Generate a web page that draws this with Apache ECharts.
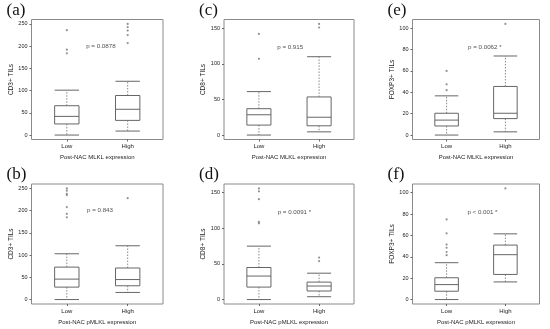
<!DOCTYPE html>
<html><head><meta charset="utf-8">
<script src="https://cdn.jsdelivr.net/npm/echarts@6/dist/echarts.min.js"></script>
<style>html,body{margin:0;padding:0;background:#fff}#c{width:550px;height:329px}</style>
</head><body><div id="c"></div>
<script>
// ---- data ----
const categories = ['Low', 'High'];
// box stats: [whiskerLow, Q1, median, Q3, whiskerHigh]
const statsA = [[0, 25, 42, 66, 101], [9, 33, 58, 89, 121]];
const outliersA = [[184, 192, 236], [207, 225, 235, 243, 250]];
const statsB = [[0, 28, 46, 73, 103], [16, 31, 45, 71, 121]];
const outliersB = [[185, 193, 208, 235, 238, 245, 250], [228]];
const statsC = [[0, 14, 28.5, 37, 61], [4.5, 13, 25, 53.5, 110]];
const outliersC = [[107, 142], [151, 156]];
const statsD = [[0, 17.5, 33, 45, 75], [4, 12, 19, 24.5, 37]];
const outliersD = [[107, 109, 141, 152, 156], [54, 59]];
const statsE = [[0, 8.5, 14, 20.4, 36.7], [3, 15.4, 20.4, 45.5, 74]];
const outliersE = [[42, 47.5, 60], [104]];
const statsF = [[0, 7.8, 14, 20.4, 34.5], [16.5, 23.5, 42, 51, 61.5]];
const outliersF = [[41.5, 44.5, 48.5, 51.5, 62, 75], [104]];
const pLabels = ['p = 0.0878', 'p = 0.843', 'p = 0.915', 'p = 0.0091 *', 'p = 0.0062 *', 'p < 0.001 *'];
const pLabelPos = [[1.56, 200], [1.545, 200], [1.52, 123], [1.59, 123], [1.65, 82], [1.61, 82]];
const panelTags = ['(a)', '(b)', '(c)', '(d)', '(e)', '(f)'];
const yTitles = ['CD3+ TILs', 'CD3+ TILs', 'CD8+ TILs', 'CD8+ TILs', 'FOXP3+ TILs', 'FOXP3+ TILs'];
const xTitles = ['Post-NAC MLKL expression', 'Post-NAC pMLKL expression', 'Post-NAC MLKL expression', 'Post-NAC pMLKL expression', 'Post-NAC MLKL expression', 'Post-NAC pMLKL expression'];
const yTicksCD3 = [0, 50, 100, 150, 200, 250];
const yTicksCD8 = [0, 50, 100, 150];
const yTicksFOXP3 = [0, 20, 40, 60, 80, 100];

// ---- layout ----
const cols = [{ left: 31.5, width: 131.5 }, { left: 224, width: 130 }, { left: 412.5, width: 127 }];
const rows = [{ top: 19.5, height: 120 }, { top: 184, height: 120 }];
const allStats = [statsA, statsB, statsC, statsD, statsE, statsF];
const allOut = [outliersA, outliersB, outliersC, outliersD, outliersE, outliersF];
const yTickSets = [yTicksCD3, yTicksCD3, yTicksCD8, yTicksCD8, yTicksFOXP3, yTicksFOXP3];
const yLimits = [[-10, 260], [-10, 260], [-6.24, 162.24], [-6.24, 162.24], [-4.16, 108.16], [-4.16, 108.16]];

const FONT = "'Liberation Sans', Arial, sans-serif";
const LINE = '#666';
const grids = [], xAxes = [], yAxes = [], series = [], graphics = [];

for (let i = 0; i < 6; i++) {
  const col = cols[Math.floor(i / 2)], row = rows[i % 2];
  grids.push({ left: col.left, top: row.top, width: col.width, height: row.height, show: true, borderColor: '#8a8a8a', borderWidth: 1, backgroundColor: 'transparent' });
  xAxes.push({
    gridIndex: i, type: 'value', min: 0.42, max: 2.58, position: 'bottom',
    name: xTitles[i], nameLocation: 'middle', nameGap: 15,
    nameTextStyle: { fontFamily: FONT, fontSize: 6, color: '#222' },
    axisLine: { show: false, onZero: false }, splitLine: { show: false },
    axisTick: { show: true, length: 2, customValues: [1, 2], lineStyle: { color: LINE } },
    axisLabel: { customValues: [1, 2], formatter: v => categories[Math.round(v) - 1], fontFamily: FONT, fontSize: 6, color: '#222', margin: 4 }
  });
  yAxes.push({
    gridIndex: i, type: 'value', min: yLimits[i][0], max: yLimits[i][1], position: 'left',
    name: yTitles[i], nameLocation: 'middle', nameGap: 14, nameRotate: 90,
    nameTextStyle: { fontFamily: FONT, fontSize: 6.5, color: '#222' },
    axisLine: { show: false, onZero: false }, splitLine: { show: false },
    axisTick: { show: true, length: 2, customValues: yTickSets[i], lineStyle: { color: LINE } },
    axisLabel: { customValues: yTickSets[i], fontFamily: FONT, fontSize: 5.5, color: '#222', margin: 4 }
  });
  series.push({
    type: 'custom', xAxisIndex: i, yAxisIndex: i, silent: true,
    data: allStats[i].map((s, k) => [k + 1].concat(s)),
    renderItem: function (params, api) {
      const x = api.value(0);
      const p = [1, 2, 3, 4, 5].map(d => api.coord([x, api.value(d)]));
      const hw = api.size([0.2, 0])[0];
      const cx = p[0][0];
      const solid = { stroke: LINE, lineWidth: 1, fill: null };
      const dashed = { stroke: '#888', lineWidth: 1, lineDash: [1.5, 1.5], fill: null };
      return {
        type: 'group', children: [
          { type: 'line', shape: { x1: cx, y1: p[3][1], x2: cx, y2: p[4][1] }, style: dashed },
          { type: 'line', shape: { x1: cx, y1: p[1][1], x2: cx, y2: p[0][1] }, style: dashed },
          { type: 'line', shape: { x1: cx - hw, y1: p[4][1], x2: cx + hw, y2: p[4][1] }, style: solid },
          { type: 'line', shape: { x1: cx - hw, y1: p[0][1], x2: cx + hw, y2: p[0][1] }, style: solid },
          { type: 'rect', shape: { x: cx - hw, y: p[3][1], width: 2 * hw, height: p[1][1] - p[3][1] }, style: { stroke: LINE, lineWidth: 1, fill: '#fff' } },
          { type: 'line', shape: { x1: cx - hw, y1: p[2][1], x2: cx + hw, y2: p[2][1] }, style: solid }
        ]
      };
    }
  });
  const pts = [];
  allOut[i].forEach((arr, k) => arr.forEach(v => pts.push([k + 1, v])));
  series.push({ type: 'scatter', xAxisIndex: i, yAxisIndex: i, silent: true, symbol: 'circle', symbolSize: 2.2, itemStyle: { color: '#777' }, data: pts });
  series.push({
    type: 'scatter', xAxisIndex: i, yAxisIndex: i, silent: true, symbolSize: 0,
    data: [pLabelPos[i]],
    label: { show: true, position: 'inside', formatter: () => pLabels[i], fontFamily: FONT, fontSize: 6.2, color: '#222' }
  });
  graphics.push({ type: 'text', left: col.left - 25, top: row.top - 17.5, style: { text: panelTags[i], font: "17px 'Liberation Serif', 'Times New Roman', serif", fill: '#111' } });
}

const chart = echarts.init(document.getElementById('c'), null, { renderer: 'canvas' });
chart.setOption({ animation: false, backgroundColor: '#fff', grid: grids, xAxis: xAxes, yAxis: yAxes, series: series, graphic: graphics });
</script></body></html>
